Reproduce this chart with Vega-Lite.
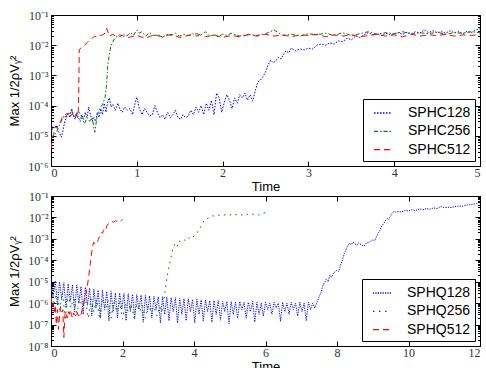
{
  "$schema": "https://vega.github.io/schema/vega-lite/v6.json",
  "padding": {"left": 8, "top": 8, "right": 0, "bottom": 0},
  "config": {
    "view": {"stroke": "black", "strokeWidth": 1},
    "axis": {
      "grid": false, "domain": false, "tickColor": "black", "tickWidth": 1,
      "labelFont": "Liberation Serif", "labelFontSize": 12, "labelColor": "#333",
      "titleFont": "Liberation Sans", "titleFontSize": 13, "titleFontWeight": "normal", "titleColor": "black"
    },
    "legend": {
      "orient": "bottom-right", "offset": 5, "title": null, "strokeColor": "black", "fillColor": "white",
      "padding": 4, "symbolType": "stroke", "symbolSize": 324, "symbolStrokeWidth": 1.3, "symbolOffset": 6,
      "labelFont": "Liberation Sans", "labelFontSize": 14, "labelColor": "black", "labelOffset": 15, "rowPadding": 1.3, "cornerRadius": 0
    }
  },
  "datasets": {
    "top": [
      {"s":"SPHC128","t":0.00,"v":1.0e-5},{"s":"SPHC128","t":0.02,"v":2.0e-5},{"s":"SPHC128","t":0.04,"v":1.8e-5},{"s":"SPHC128","t":0.06,"v":2.2e-5},{"s":"SPHC128","t":0.08,"v":1.5e-5},{"s":"SPHC128","t":0.10,"v":1.2e-5},{"s":"SPHC128","t":0.12,"v":9e-6},{"s":"SPHC128","t":0.14,"v":1.5e-5},{"s":"SPHC128","t":0.16,"v":3e-5},{"s":"SPHC128","t":0.18,"v":4e-5},{"s":"SPHC128","t":0.20,"v":6e-5},{"s":"SPHC128","t":0.22,"v":4e-5},{"s":"SPHC128","t":0.24,"v":8e-5},{"s":"SPHC128","t":0.26,"v":5e-5},{"s":"SPHC128","t":0.28,"v":3.5e-5},{"s":"SPHC128","t":0.30,"v":6e-5},{"s":"SPHC128","t":0.32,"v":4e-5},{"s":"SPHC128","t":0.34,"v":3e-5},{"s":"SPHC128","t":0.36,"v":5e-5},{"s":"SPHC128","t":0.38,"v":3.5e-5},{"s":"SPHC128","t":0.40,"v":6e-5},{"s":"SPHC128","t":0.42,"v":4e-5},{"s":"SPHC128","t":0.44,"v":9e-5},{"s":"SPHC128","t":0.46,"v":5e-5},{"s":"SPHC128","t":0.48,"v":3e-5},{"s":"SPHC128","t":0.50,"v":4e-5},{"s":"SPHC128","t":0.52,"v":3e-5},{"s":"SPHC128","t":0.54,"v":6e-5},{"s":"SPHC128","t":0.56,"v":4e-5},{"s":"SPHC128","t":0.58,"v":8e-5},{"s":"SPHC128","t":0.60,"v":5e-5},{"s":"SPHC128","t":0.62,"v":1.2e-4},{"s":"SPHC128","t":0.64,"v":6e-5},{"s":"SPHC128","t":0.66,"v":1.3e-4},{"s":"SPHC128","t":0.68,"v":1.8e-4},{"s":"SPHC128","t":0.70,"v":9e-5},{"s":"SPHC128","t":0.72,"v":1.1e-4},{"s":"SPHC128","t":0.75,"v":7e-5},{"s":"SPHC128","t":0.78,"v":1.2e-4},{"s":"SPHC128","t":0.80,"v":8e-5},{"s":"SPHC128","t":0.83,"v":6e-5},{"s":"SPHC128","t":0.86,"v":9e-5},{"s":"SPHC128","t":0.89,"v":7e-5},{"s":"SPHC128","t":0.92,"v":8e-5},{"s":"SPHC128","t":0.95,"v":5e-5},{"s":"SPHC128","t":0.98,"v":1.2e-4},{"s":"SPHC128","t":1.00,"v":1.9e-4},{"s":"SPHC128","t":1.03,"v":8e-5},{"s":"SPHC128","t":1.06,"v":5e-5},{"s":"SPHC128","t":1.09,"v":8e-5},{"s":"SPHC128","t":1.12,"v":6e-5},{"s":"SPHC128","t":1.15,"v":4.5e-5},{"s":"SPHC128","t":1.18,"v":5e-5},{"s":"SPHC128","t":1.21,"v":1e-4},{"s":"SPHC128","t":1.24,"v":6e-5},{"s":"SPHC128","t":1.27,"v":4e-5},{"s":"SPHC128","t":1.30,"v":5e-5},{"s":"SPHC128","t":1.33,"v":3.5e-5},{"s":"SPHC128","t":1.36,"v":6e-5},{"s":"SPHC128","t":1.39,"v":4e-5},{"s":"SPHC128","t":1.42,"v":5e-5},{"s":"SPHC128","t":1.45,"v":7e-5},{"s":"SPHC128","t":1.48,"v":4e-5},{"s":"SPHC128","t":1.51,"v":3.5e-5},{"s":"SPHC128","t":1.54,"v":5e-5},{"s":"SPHC128","t":1.57,"v":4e-5},{"s":"SPHC128","t":1.60,"v":4.5e-5},{"s":"SPHC128","t":1.63,"v":7e-5},{"s":"SPHC128","t":1.66,"v":5e-5},{"s":"SPHC128","t":1.69,"v":9e-5},{"s":"SPHC128","t":1.72,"v":6e-5},{"s":"SPHC128","t":1.75,"v":1e-4},{"s":"SPHC128","t":1.78,"v":5e-5},{"s":"SPHC128","t":1.81,"v":1.2e-4},{"s":"SPHC128","t":1.84,"v":7e-5},{"s":"SPHC128","t":1.87,"v":1.5e-4},{"s":"SPHC128","t":1.90,"v":5e-5},{"s":"SPHC128","t":1.93,"v":2.6e-4},{"s":"SPHC128","t":1.96,"v":1.8e-4},{"s":"SPHC128","t":1.99,"v":6e-5},{"s":"SPHC128","t":2.02,"v":1.3e-4},{"s":"SPHC128","t":2.05,"v":2.3e-4},{"s":"SPHC128","t":2.08,"v":1.5e-4},{"s":"SPHC128","t":2.11,"v":8e-5},{"s":"SPHC128","t":2.14,"v":1.8e-4},{"s":"SPHC128","t":2.17,"v":1.2e-4},{"s":"SPHC128","t":2.20,"v":2.3e-4},{"s":"SPHC128","t":2.23,"v":1.8e-4},{"s":"SPHC128","t":2.26,"v":2.6e-4},{"s":"SPHC128","t":2.29,"v":1.5e-4},{"s":"SPHC128","t":2.32,"v":2.3e-4},{"s":"SPHC128","t":2.35,"v":1.4e-4},{"s":"SPHC128","t":2.38,"v":3e-4},{"s":"SPHC128","t":2.41,"v":6e-4},{"s":"SPHC128","t":2.44,"v":7e-4},{"s":"SPHC128","t":2.47,"v":9e-4},{"s":"SPHC128","t":2.50,"v":1.3e-3},{"s":"SPHC128","t":2.53,"v":2.2e-3},{"s":"SPHC128","t":2.56,"v":3.2e-3},{"s":"SPHC128","t":2.59,"v":2.6e-3},{"s":"SPHC128","t":2.62,"v":3e-3},{"s":"SPHC128","t":2.65,"v":4e-3},{"s":"SPHC128","t":2.68,"v":3.5e-3},{"s":"SPHC128","t":2.71,"v":5e-3},{"s":"SPHC128","t":2.74,"v":6.5e-3},{"s":"SPHC128","t":2.77,"v":5.5e-3},{"s":"SPHC128","t":2.80,"v":8e-3},{"s":"SPHC128","t":2.85,"v":6.5e-3},{"s":"SPHC128","t":2.90,"v":7.5e-3},{"s":"SPHC128","t":2.95,"v":7e-3},{"s":"SPHC128","t":3.00,"v":8e-3},{"s":"SPHC128","t":3.05,"v":7.5e-3},{"s":"SPHC128","t":3.10,"v":1e-2},{"s":"SPHC128","t":3.15,"v":1.1e-2},{"s":"SPHC128","t":3.20,"v":1e-2},{"s":"SPHC128","t":3.25,"v":1.2e-2},{"s":"SPHC128","t":3.30,"v":1.1e-2},{"s":"SPHC128","t":3.35,"v":1.4e-2},{"s":"SPHC128","t":3.40,"v":1.3e-2},{"s":"SPHC128","t":3.45,"v":1.7e-2},{"s":"SPHC128","t":3.50,"v":1.5e-2},{"s":"SPHC128","t":3.55,"v":2e-2},{"s":"SPHC128","t":3.60,"v":1.8e-2},{"s":"SPHC128","t":3.65,"v":2.2e-2},{"s":"SPHC128","t":3.70,"v":2.6e-2},{"s":"SPHC128","t":3.75,"v":2.2e-2},{"s":"SPHC128","t":3.80,"v":2.4e-2},{"s":"SPHC128","t":3.85,"v":2.1e-2},{"s":"SPHC128","t":3.90,"v":2.5e-2},{"s":"SPHC128","t":3.95,"v":2.2e-2},{"s":"SPHC128","t":4.00,"v":2.4e-2},{"s":"SPHC128","t":4.05,"v":2.6e-2},{"s":"SPHC128","t":4.10,"v":2.3e-2},{"s":"SPHC128","t":4.15,"v":2.7e-2},{"s":"SPHC128","t":4.20,"v":2.4e-2},{"s":"SPHC128","t":4.25,"v":2.8e-2},{"s":"SPHC128","t":4.30,"v":2.5e-2},{"s":"SPHC128","t":4.35,"v":3.2e-2},{"s":"SPHC128","t":4.40,"v":2.6e-2},{"s":"SPHC128","t":4.45,"v":3e-2},{"s":"SPHC128","t":4.50,"v":2.6e-2},{"s":"SPHC128","t":4.55,"v":2.8e-2},{"s":"SPHC128","t":4.60,"v":2.5e-2},{"s":"SPHC128","t":4.65,"v":3e-2},{"s":"SPHC128","t":4.70,"v":2.6e-2},{"s":"SPHC128","t":4.75,"v":2.8e-2},{"s":"SPHC128","t":4.80,"v":2.4e-2},{"s":"SPHC128","t":4.85,"v":2.9e-2},{"s":"SPHC128","t":4.90,"v":2.6e-2},{"s":"SPHC128","t":4.95,"v":3.2e-2},{"s":"SPHC128","t":5.00,"v":3.5e-2},
      {"s":"SPHC256","t":0.00,"v":8e-6},{"s":"SPHC256","t":0.03,"v":1.1e-5},{"s":"SPHC256","t":0.06,"v":1.2e-5},{"s":"SPHC256","t":0.09,"v":2e-5},{"s":"SPHC256","t":0.12,"v":3e-5},{"s":"SPHC256","t":0.15,"v":4.5e-5},{"s":"SPHC256","t":0.18,"v":5.5e-5},{"s":"SPHC256","t":0.21,"v":5e-5},{"s":"SPHC256","t":0.24,"v":7e-5},{"s":"SPHC256","t":0.27,"v":4e-5},{"s":"SPHC256","t":0.30,"v":5e-5},{"s":"SPHC256","t":0.33,"v":6e-5},{"s":"SPHC256","t":0.36,"v":4e-5},{"s":"SPHC256","t":0.39,"v":2.5e-5},{"s":"SPHC256","t":0.42,"v":4e-5},{"s":"SPHC256","t":0.45,"v":3e-5},{"s":"SPHC256","t":0.48,"v":4e-5},{"s":"SPHC256","t":0.51,"v":1.3e-5},{"s":"SPHC256","t":0.54,"v":5e-5},{"s":"SPHC256","t":0.57,"v":8e-5},{"s":"SPHC256","t":0.60,"v":1.1e-4},{"s":"SPHC256","t":0.63,"v":1.8e-4},{"s":"SPHC256","t":0.65,"v":6e-4},{"s":"SPHC256","t":0.66,"v":2e-3},{"s":"SPHC256","t":0.68,"v":5e-3},{"s":"SPHC256","t":0.70,"v":1e-2},{"s":"SPHC256","t":0.72,"v":1.3e-2},{"s":"SPHC256","t":0.75,"v":1.8e-2},{"s":"SPHC256","t":0.78,"v":2e-2},{"s":"SPHC256","t":0.81,"v":1.9e-2},{"s":"SPHC256","t":0.84,"v":2.4e-2},{"s":"SPHC256","t":0.87,"v":2e-2},{"s":"SPHC256","t":0.90,"v":2.2e-2},{"s":"SPHC256","t":0.93,"v":2.6e-2},{"s":"SPHC256","t":0.96,"v":2.1e-2},{"s":"SPHC256","t":1.00,"v":3.2e-2},{"s":"SPHC256","t":1.03,"v":2.5e-2},{"s":"SPHC256","t":1.06,"v":2.8e-2},{"s":"SPHC256","t":1.10,"v":2e-2},{"s":"SPHC256","t":1.15,"v":2.6e-2},{"s":"SPHC256","t":1.20,"v":2.1e-2},{"s":"SPHC256","t":1.25,"v":2.2e-2},{"s":"SPHC256","t":1.30,"v":1.8e-2},{"s":"SPHC256","t":1.35,"v":2.3e-2},{"s":"SPHC256","t":1.40,"v":2.1e-2},{"s":"SPHC256","t":1.45,"v":2.5e-2},{"s":"SPHC256","t":1.50,"v":2e-2},{"s":"SPHC256","t":1.55,"v":2.3e-2},{"s":"SPHC256","t":1.60,"v":2.1e-2},{"s":"SPHC256","t":1.65,"v":2.4e-2},{"s":"SPHC256","t":1.70,"v":2e-2},{"s":"SPHC256","t":1.75,"v":2.2e-2},{"s":"SPHC256","t":1.80,"v":2.8e-2},{"s":"SPHC256","t":1.85,"v":2e-2},{"s":"SPHC256","t":1.90,"v":2.2e-2},{"s":"SPHC256","t":1.95,"v":1.9e-2},{"s":"SPHC256","t":2.00,"v":2.3e-2},{"s":"SPHC256","t":2.05,"v":2.1e-2},{"s":"SPHC256","t":2.10,"v":2.5e-2},{"s":"SPHC256","t":2.20,"v":2e-2},{"s":"SPHC256","t":2.30,"v":2.3e-2},{"s":"SPHC256","t":2.40,"v":2.1e-2},{"s":"SPHC256","t":2.50,"v":2.4e-2},{"s":"SPHC256","t":2.60,"v":3.2e-2},{"s":"SPHC256","t":2.70,"v":2.1e-2},{"s":"SPHC256","t":2.80,"v":2.3e-2},{"s":"SPHC256","t":2.90,"v":2e-2},{"s":"SPHC256","t":3.00,"v":2.4e-2},{"s":"SPHC256","t":3.10,"v":2.2e-2},{"s":"SPHC256","t":3.20,"v":2.5e-2},{"s":"SPHC256","t":3.30,"v":2.1e-2},{"s":"SPHC256","t":3.40,"v":2.6e-2},{"s":"SPHC256","t":3.50,"v":2.1e-2},{"s":"SPHC256","t":3.60,"v":2.4e-2},{"s":"SPHC256","t":3.70,"v":2.8e-2},{"s":"SPHC256","t":3.80,"v":2.3e-2},{"s":"SPHC256","t":3.90,"v":2.6e-2},{"s":"SPHC256","t":4.00,"v":2.4e-2},{"s":"SPHC256","t":4.10,"v":2.8e-2},{"s":"SPHC256","t":4.20,"v":2.3e-2},{"s":"SPHC256","t":4.30,"v":2.6e-2},{"s":"SPHC256","t":4.40,"v":2.4e-2},{"s":"SPHC256","t":4.50,"v":2.7e-2},{"s":"SPHC256","t":4.60,"v":2.3e-2},{"s":"SPHC256","t":4.70,"v":2.6e-2},{"s":"SPHC256","t":4.80,"v":2.5e-2},{"s":"SPHC256","t":4.90,"v":2.8e-2},{"s":"SPHC256","t":5.00,"v":2.6e-2},
      {"s":"SPHC512","t":0.00,"v":4e-6},{"s":"SPHC512","t":0.01,"v":6e-6},{"s":"SPHC512","t":0.03,"v":1.1e-5},{"s":"SPHC512","t":0.05,"v":2e-5},{"s":"SPHC512","t":0.07,"v":1.8e-5},{"s":"SPHC512","t":0.09,"v":2.5e-5},{"s":"SPHC512","t":0.11,"v":3e-5},{"s":"SPHC512","t":0.13,"v":4e-5},{"s":"SPHC512","t":0.15,"v":3.5e-5},{"s":"SPHC512","t":0.17,"v":4.5e-5},{"s":"SPHC512","t":0.19,"v":5e-5},{"s":"SPHC512","t":0.21,"v":6e-5},{"s":"SPHC512","t":0.23,"v":4.5e-5},{"s":"SPHC512","t":0.25,"v":5.5e-5},{"s":"SPHC512","t":0.27,"v":4e-5},{"s":"SPHC512","t":0.29,"v":5e-5},{"s":"SPHC512","t":0.31,"v":4e-5},{"s":"SPHC512","t":0.32,"v":8e-5},{"s":"SPHC512","t":0.33,"v":7e-3},{"s":"SPHC512","t":0.36,"v":9e-3},{"s":"SPHC512","t":0.39,"v":1e-2},{"s":"SPHC512","t":0.42,"v":1.2e-2},{"s":"SPHC512","t":0.45,"v":1.5e-2},{"s":"SPHC512","t":0.48,"v":1.7e-2},{"s":"SPHC512","t":0.51,"v":2e-2},{"s":"SPHC512","t":0.54,"v":1.8e-2},{"s":"SPHC512","t":0.57,"v":2.1e-2},{"s":"SPHC512","t":0.60,"v":2.2e-2},{"s":"SPHC512","t":0.63,"v":2.5e-2},{"s":"SPHC512","t":0.65,"v":3.6e-2},{"s":"SPHC512","t":0.68,"v":2e-2},{"s":"SPHC512","t":0.72,"v":2.3e-2},{"s":"SPHC512","t":0.76,"v":1.9e-2},{"s":"SPHC512","t":0.80,"v":2.2e-2},{"s":"SPHC512","t":0.90,"v":1.8e-2},{"s":"SPHC512","t":1.00,"v":2.1e-2},{"s":"SPHC512","t":1.10,"v":1.7e-2},{"s":"SPHC512","t":1.20,"v":2.2e-2},{"s":"SPHC512","t":1.30,"v":1.9e-2},{"s":"SPHC512","t":1.40,"v":2.3e-2},{"s":"SPHC512","t":1.50,"v":1.8e-2},{"s":"SPHC512","t":1.60,"v":2.1e-2},{"s":"SPHC512","t":1.70,"v":2.4e-2},{"s":"SPHC512","t":1.80,"v":1.9e-2},{"s":"SPHC512","t":1.90,"v":2.2e-2},{"s":"SPHC512","t":2.00,"v":1.8e-2},{"s":"SPHC512","t":2.10,"v":2.1e-2},{"s":"SPHC512","t":2.20,"v":1.9e-2},{"s":"SPHC512","t":2.30,"v":2.2e-2},{"s":"SPHC512","t":2.40,"v":2e-2},{"s":"SPHC512","t":2.50,"v":2.3e-2},{"s":"SPHC512","t":2.60,"v":2e-2},{"s":"SPHC512","t":2.70,"v":2.2e-2},{"s":"SPHC512","t":2.80,"v":1.9e-2},{"s":"SPHC512","t":2.90,"v":2.2e-2},{"s":"SPHC512","t":3.00,"v":2.1e-2},{"s":"SPHC512","t":3.10,"v":2.3e-2},{"s":"SPHC512","t":3.20,"v":1.9e-2},{"s":"SPHC512","t":3.30,"v":2.2e-2},{"s":"SPHC512","t":3.40,"v":2e-2},{"s":"SPHC512","t":3.50,"v":2.2e-2},{"s":"SPHC512","t":3.60,"v":1.9e-2},{"s":"SPHC512","t":3.70,"v":2.1e-2},{"s":"SPHC512","t":3.80,"v":2.3e-2},{"s":"SPHC512","t":3.90,"v":2e-2},{"s":"SPHC512","t":4.00,"v":2.2e-2},{"s":"SPHC512","t":4.10,"v":1.9e-2},{"s":"SPHC512","t":4.20,"v":2.3e-2},{"s":"SPHC512","t":4.30,"v":2e-2},{"s":"SPHC512","t":4.40,"v":2.2e-2},{"s":"SPHC512","t":4.50,"v":2.1e-2},{"s":"SPHC512","t":4.60,"v":2.3e-2},{"s":"SPHC512","t":4.70,"v":2e-2},{"s":"SPHC512","t":4.80,"v":2.2e-2},{"s":"SPHC512","t":4.90,"v":2.1e-2},{"s":"SPHC512","t":5.00,"v":2.3e-2}
    ],
    "bot": [
      {"s":"SPHQ128","t":0.00,"v":1.2e-5},{"s":"SPHQ128","t":0.06,"v":2e-6},{"s":"SPHQ128","t":0.12,"v":1.1e-5},{"s":"SPHQ128","t":0.18,"v":8e-7},{"s":"SPHQ128","t":0.24,"v":1e-5},{"s":"SPHQ128","t":0.30,"v":1.5e-6},{"s":"SPHQ128","t":0.36,"v":9e-6},{"s":"SPHQ128","t":0.42,"v":6e-7},{"s":"SPHQ128","t":0.48,"v":8e-6},{"s":"SPHQ128","t":0.54,"v":1.2e-6},{"s":"SPHQ128","t":0.60,"v":7e-6},{"s":"SPHQ128","t":0.66,"v":4e-7},{"s":"SPHQ128","t":0.72,"v":7e-6},{"s":"SPHQ128","t":0.78,"v":1e-6},{"s":"SPHQ128","t":0.84,"v":6e-6},{"s":"SPHQ128","t":0.90,"v":3e-7},{"s":"SPHQ128","t":0.96,"v":5.5e-6},{"s":"SPHQ128","t":1.02,"v":8e-7},{"s":"SPHQ128","t":1.08,"v":5e-6},{"s":"SPHQ128","t":1.14,"v":2.5e-7},{"s":"SPHQ128","t":1.20,"v":4.5e-6},{"s":"SPHQ128","t":1.26,"v":6e-7},{"s":"SPHQ128","t":1.32,"v":4e-6},{"s":"SPHQ128","t":1.38,"v":2e-7},{"s":"SPHQ128","t":1.44,"v":4e-6},{"s":"SPHQ128","t":1.50,"v":5e-7},{"s":"SPHQ128","t":1.56,"v":3.5e-6},{"s":"SPHQ128","t":1.62,"v":1.5e-7},{"s":"SPHQ128","t":1.68,"v":3.5e-6},{"s":"SPHQ128","t":1.74,"v":4e-7},{"s":"SPHQ128","t":1.80,"v":3e-6},{"s":"SPHQ128","t":1.86,"v":2e-7},{"s":"SPHQ128","t":1.92,"v":3e-6},{"s":"SPHQ128","t":1.98,"v":5e-7},{"s":"SPHQ128","t":2.04,"v":2.8e-6},{"s":"SPHQ128","t":2.10,"v":1.5e-7},{"s":"SPHQ128","t":2.16,"v":2.7e-6},{"s":"SPHQ128","t":2.22,"v":4e-7},{"s":"SPHQ128","t":2.28,"v":2.6e-6},{"s":"SPHQ128","t":2.34,"v":1.8e-7},{"s":"SPHQ128","t":2.40,"v":2.5e-6},{"s":"SPHQ128","t":2.46,"v":5e-7},{"s":"SPHQ128","t":2.52,"v":2.4e-6},{"s":"SPHQ128","t":2.58,"v":1.3e-7},{"s":"SPHQ128","t":2.64,"v":2.3e-6},{"s":"SPHQ128","t":2.70,"v":4e-7},{"s":"SPHQ128","t":2.76,"v":2.2e-6},{"s":"SPHQ128","t":2.82,"v":2e-7},{"s":"SPHQ128","t":2.88,"v":2.1e-6},{"s":"SPHQ128","t":2.94,"v":5e-7},{"s":"SPHQ128","t":3.00,"v":2e-6},{"s":"SPHQ128","t":3.06,"v":1.2e-7},{"s":"SPHQ128","t":3.12,"v":2e-6},{"s":"SPHQ128","t":3.18,"v":3e-7},{"s":"SPHQ128","t":3.24,"v":1.9e-6},{"s":"SPHQ128","t":3.30,"v":1.5e-7},{"s":"SPHQ128","t":3.36,"v":1.8e-6},{"s":"SPHQ128","t":3.42,"v":4e-7},{"s":"SPHQ128","t":3.48,"v":1.8e-6},{"s":"SPHQ128","t":3.54,"v":1.2e-7},{"s":"SPHQ128","t":3.60,"v":1.7e-6},{"s":"SPHQ128","t":3.66,"v":3e-7},{"s":"SPHQ128","t":3.72,"v":1.6e-6},{"s":"SPHQ128","t":3.78,"v":1.5e-7},{"s":"SPHQ128","t":3.84,"v":1.6e-6},{"s":"SPHQ128","t":3.90,"v":4e-7},{"s":"SPHQ128","t":3.96,"v":1.5e-6},{"s":"SPHQ128","t":4.02,"v":1.2e-7},{"s":"SPHQ128","t":4.08,"v":1.5e-6},{"s":"SPHQ128","t":4.14,"v":3e-7},{"s":"SPHQ128","t":4.20,"v":1.4e-6},{"s":"SPHQ128","t":4.26,"v":1.5e-7},{"s":"SPHQ128","t":4.32,"v":1.4e-6},{"s":"SPHQ128","t":4.38,"v":4e-7},{"s":"SPHQ128","t":4.44,"v":1.3e-6},{"s":"SPHQ128","t":4.50,"v":1.3e-7},{"s":"SPHQ128","t":4.56,"v":1.3e-6},{"s":"SPHQ128","t":4.62,"v":3e-7},{"s":"SPHQ128","t":4.68,"v":1.3e-6},{"s":"SPHQ128","t":4.74,"v":1.6e-7},{"s":"SPHQ128","t":4.80,"v":1.2e-6},{"s":"SPHQ128","t":4.86,"v":4e-7},{"s":"SPHQ128","t":4.92,"v":1.2e-6},{"s":"SPHQ128","t":4.98,"v":1.1e-7},{"s":"SPHQ128","t":5.04,"v":1.2e-6},{"s":"SPHQ128","t":5.10,"v":3e-7},{"s":"SPHQ128","t":5.16,"v":1.1e-6},{"s":"SPHQ128","t":5.22,"v":2e-7},{"s":"SPHQ128","t":5.28,"v":1.2e-6},{"s":"SPHQ128","t":5.34,"v":5e-7},{"s":"SPHQ128","t":5.40,"v":1.1e-6},{"s":"SPHQ128","t":5.46,"v":2e-7},{"s":"SPHQ128","t":5.52,"v":1.1e-6},{"s":"SPHQ128","t":5.58,"v":4e-7},{"s":"SPHQ128","t":5.64,"v":1.2e-6},{"s":"SPHQ128","t":5.70,"v":1.3e-7},{"s":"SPHQ128","t":5.76,"v":1.1e-6},{"s":"SPHQ128","t":5.82,"v":3e-7},{"s":"SPHQ128","t":5.88,"v":1e-6},{"s":"SPHQ128","t":5.94,"v":2.5e-7},{"s":"SPHQ128","t":6.00,"v":1.1e-6},{"s":"SPHQ128","t":6.06,"v":5e-7},{"s":"SPHQ128","t":6.12,"v":1e-6},{"s":"SPHQ128","t":6.18,"v":3e-7},{"s":"SPHQ128","t":6.24,"v":1.1e-6},{"s":"SPHQ128","t":6.30,"v":6e-7},{"s":"SPHQ128","t":6.36,"v":1e-6},{"s":"SPHQ128","t":6.42,"v":1.4e-7},{"s":"SPHQ128","t":6.48,"v":1.1e-6},{"s":"SPHQ128","t":6.54,"v":4e-7},{"s":"SPHQ128","t":6.60,"v":1e-6},{"s":"SPHQ128","t":6.66,"v":3e-7},{"s":"SPHQ128","t":6.72,"v":1.1e-6},{"s":"SPHQ128","t":6.78,"v":5e-7},{"s":"SPHQ128","t":6.84,"v":1e-6},{"s":"SPHQ128","t":6.90,"v":2.5e-7},{"s":"SPHQ128","t":6.96,"v":1.1e-6},{"s":"SPHQ128","t":7.02,"v":4e-7},{"s":"SPHQ128","t":7.08,"v":1e-6},{"s":"SPHQ128","t":7.14,"v":1.5e-7},{"s":"SPHQ128","t":7.20,"v":1.1e-6},{"s":"SPHQ128","t":7.26,"v":5e-7},{"s":"SPHQ128","t":7.32,"v":1e-6},{"s":"SPHQ128","t":7.38,"v":6e-7},{"s":"SPHQ128","t":7.45,"v":1.2e-6},{"s":"SPHQ128","t":7.50,"v":2e-6},{"s":"SPHQ128","t":7.55,"v":3e-6},{"s":"SPHQ128","t":7.60,"v":6e-6},{"s":"SPHQ128","t":7.65,"v":9e-6},{"s":"SPHQ128","t":7.70,"v":1.3e-5},{"s":"SPHQ128","t":7.75,"v":1e-5},{"s":"SPHQ128","t":7.80,"v":2e-5},{"s":"SPHQ128","t":7.85,"v":1.6e-5},{"s":"SPHQ128","t":7.90,"v":2.5e-5},{"s":"SPHQ128","t":8.00,"v":3.5e-5},{"s":"SPHQ128","t":8.05,"v":3e-5},{"s":"SPHQ128","t":8.10,"v":6e-5},{"s":"SPHQ128","t":8.15,"v":1e-4},{"s":"SPHQ128","t":8.20,"v":2e-4},{"s":"SPHQ128","t":8.25,"v":3e-4},{"s":"SPHQ128","t":8.30,"v":5e-4},{"s":"SPHQ128","t":8.35,"v":6e-4},{"s":"SPHQ128","t":8.40,"v":5.5e-4},{"s":"SPHQ128","t":8.45,"v":7e-4},{"s":"SPHQ128","t":8.50,"v":6e-4},{"s":"SPHQ128","t":8.55,"v":5e-4},{"s":"SPHQ128","t":8.60,"v":6.5e-4},{"s":"SPHQ128","t":8.70,"v":5e-4},{"s":"SPHQ128","t":8.75,"v":4.5e-4},{"s":"SPHQ128","t":8.80,"v":6e-4},{"s":"SPHQ128","t":8.90,"v":7e-4},{"s":"SPHQ128","t":9.00,"v":9e-4},{"s":"SPHQ128","t":9.05,"v":8e-4},{"s":"SPHQ128","t":9.10,"v":1.2e-3},{"s":"SPHQ128","t":9.15,"v":1.8e-3},{"s":"SPHQ128","t":9.20,"v":2.5e-3},{"s":"SPHQ128","t":9.25,"v":4e-3},{"s":"SPHQ128","t":9.30,"v":5e-3},{"s":"SPHQ128","t":9.35,"v":7e-3},{"s":"SPHQ128","t":9.40,"v":9e-3},{"s":"SPHQ128","t":9.45,"v":8e-3},{"s":"SPHQ128","t":9.50,"v":1.2e-2},{"s":"SPHQ128","t":9.55,"v":1.6e-2},{"s":"SPHQ128","t":9.60,"v":2e-2},{"s":"SPHQ128","t":9.65,"v":1.7e-2},{"s":"SPHQ128","t":9.70,"v":1.9e-2},{"s":"SPHQ128","t":9.80,"v":1.8e-2},{"s":"SPHQ128","t":9.90,"v":2.1e-2},{"s":"SPHQ128","t":10.0,"v":2e-2},{"s":"SPHQ128","t":10.1,"v":2.3e-2},{"s":"SPHQ128","t":10.2,"v":2.1e-2},{"s":"SPHQ128","t":10.3,"v":2.5e-2},{"s":"SPHQ128","t":10.4,"v":2.3e-2},{"s":"SPHQ128","t":10.5,"v":2.6e-2},{"s":"SPHQ128","t":10.6,"v":2.4e-2},{"s":"SPHQ128","t":10.7,"v":2.8e-2},{"s":"SPHQ128","t":10.8,"v":2.6e-2},{"s":"SPHQ128","t":10.9,"v":3.2e-2},{"s":"SPHQ128","t":11.0,"v":2.9e-2},{"s":"SPHQ128","t":11.1,"v":3e-2},{"s":"SPHQ128","t":11.2,"v":2.9e-2},{"s":"SPHQ128","t":11.3,"v":3.2e-2},{"s":"SPHQ128","t":11.4,"v":3.4e-2},{"s":"SPHQ128","t":11.5,"v":3.3e-2},{"s":"SPHQ128","t":11.6,"v":3.7e-2},{"s":"SPHQ128","t":11.7,"v":3.9e-2},{"s":"SPHQ128","t":11.8,"v":4.1e-2},{"s":"SPHQ128","t":11.9,"v":4.4e-2},{"s":"SPHQ128","t":12.0,"v":5e-2},
      {"s":"SPHQ256","t":0.00,"v":4.5e-6},{"s":"SPHQ256","t":0.08,"v":8e-7},{"s":"SPHQ256","t":0.16,"v":3.5e-6},{"s":"SPHQ256","t":0.24,"v":5e-7},{"s":"SPHQ256","t":0.32,"v":3e-6},{"s":"SPHQ256","t":0.40,"v":2e-7},{"s":"SPHQ256","t":0.48,"v":2.5e-6},{"s":"SPHQ256","t":0.56,"v":6e-7},{"s":"SPHQ256","t":0.64,"v":2.2e-6},{"s":"SPHQ256","t":0.72,"v":2.5e-7},{"s":"SPHQ256","t":0.80,"v":2e-6},{"s":"SPHQ256","t":0.88,"v":5e-7},{"s":"SPHQ256","t":0.96,"v":1.8e-6},{"s":"SPHQ256","t":1.04,"v":2e-7},{"s":"SPHQ256","t":1.12,"v":1.6e-6},{"s":"SPHQ256","t":1.20,"v":4e-7},{"s":"SPHQ256","t":1.28,"v":1.5e-6},{"s":"SPHQ256","t":1.36,"v":1.8e-7},{"s":"SPHQ256","t":1.44,"v":1.4e-6},{"s":"SPHQ256","t":1.52,"v":5e-7},{"s":"SPHQ256","t":1.60,"v":1.3e-6},{"s":"SPHQ256","t":1.68,"v":2e-7},{"s":"SPHQ256","t":1.76,"v":1.2e-6},{"s":"SPHQ256","t":1.84,"v":4e-7},{"s":"SPHQ256","t":1.92,"v":1.1e-6},{"s":"SPHQ256","t":2.00,"v":1.8e-7},{"s":"SPHQ256","t":2.08,"v":1e-6},{"s":"SPHQ256","t":2.16,"v":4e-7},{"s":"SPHQ256","t":2.24,"v":9e-7},{"s":"SPHQ256","t":2.32,"v":2e-7},{"s":"SPHQ256","t":2.40,"v":9e-7},{"s":"SPHQ256","t":2.48,"v":4e-7},{"s":"SPHQ256","t":2.56,"v":8e-7},{"s":"SPHQ256","t":2.64,"v":2e-7},{"s":"SPHQ256","t":2.72,"v":8e-7},{"s":"SPHQ256","t":2.80,"v":4e-7},{"s":"SPHQ256","t":2.88,"v":7e-7},{"s":"SPHQ256","t":2.96,"v":2.5e-7},{"s":"SPHQ256","t":3.04,"v":7e-7},{"s":"SPHQ256","t":3.10,"v":4e-7},{"s":"SPHQ256","t":3.16,"v":1.5e-6},{"s":"SPHQ256","t":3.22,"v":8e-6},{"s":"SPHQ256","t":3.28,"v":3.5e-5},{"s":"SPHQ256","t":3.34,"v":1e-4},{"s":"SPHQ256","t":3.40,"v":3e-4},{"s":"SPHQ256","t":3.46,"v":5.5e-4},{"s":"SPHQ256","t":3.52,"v":4e-4},{"s":"SPHQ256","t":3.58,"v":8e-4},{"s":"SPHQ256","t":3.64,"v":7e-4},{"s":"SPHQ256","t":3.72,"v":9e-4},{"s":"SPHQ256","t":3.80,"v":8e-4},{"s":"SPHQ256","t":3.88,"v":1.2e-3},{"s":"SPHQ256","t":3.96,"v":1.1e-3},{"s":"SPHQ256","t":4.04,"v":1.8e-3},{"s":"SPHQ256","t":4.12,"v":2.2e-3},{"s":"SPHQ256","t":4.20,"v":4e-3},{"s":"SPHQ256","t":4.28,"v":7e-3},{"s":"SPHQ256","t":4.36,"v":8e-3},{"s":"SPHQ256","t":4.44,"v":1.1e-2},{"s":"SPHQ256","t":4.52,"v":1.2e-2},{"s":"SPHQ256","t":4.60,"v":1.1e-2},{"s":"SPHQ256","t":4.70,"v":1.3e-2},{"s":"SPHQ256","t":4.80,"v":1.2e-2},{"s":"SPHQ256","t":4.90,"v":1.4e-2},{"s":"SPHQ256","t":5.00,"v":1.3e-2},{"s":"SPHQ256","t":5.10,"v":1.5e-2},{"s":"SPHQ256","t":5.20,"v":1.3e-2},{"s":"SPHQ256","t":5.30,"v":1.4e-2},{"s":"SPHQ256","t":5.40,"v":1.2e-2},{"s":"SPHQ256","t":5.50,"v":1.4e-2},{"s":"SPHQ256","t":5.60,"v":1.3e-2},{"s":"SPHQ256","t":5.70,"v":1.5e-2},{"s":"SPHQ256","t":5.80,"v":1.3e-2},{"s":"SPHQ256","t":5.90,"v":1.5e-2},{"s":"SPHQ256","t":6.00,"v":1.7e-2},
      {"s":"SPHQ512","t":0.00,"v":2e-6},{"s":"SPHQ512","t":0.03,"v":7e-7},{"s":"SPHQ512","t":0.06,"v":1e-6},{"s":"SPHQ512","t":0.09,"v":4e-7},{"s":"SPHQ512","t":0.12,"v":8e-7},{"s":"SPHQ512","t":0.15,"v":1e-7},{"s":"SPHQ512","t":0.18,"v":5e-7},{"s":"SPHQ512","t":0.21,"v":6e-8},{"s":"SPHQ512","t":0.24,"v":3e-7},{"s":"SPHQ512","t":0.27,"v":7e-7},{"s":"SPHQ512","t":0.30,"v":4e-7},{"s":"SPHQ512","t":0.33,"v":5e-7},{"s":"SPHQ512","t":0.36,"v":2.5e-8},{"s":"SPHQ512","t":0.39,"v":3e-7},{"s":"SPHQ512","t":0.42,"v":4e-7},{"s":"SPHQ512","t":0.45,"v":2e-7},{"s":"SPHQ512","t":0.48,"v":4e-7},{"s":"SPHQ512","t":0.51,"v":3e-7},{"s":"SPHQ512","t":0.54,"v":5e-7},{"s":"SPHQ512","t":0.57,"v":3e-7},{"s":"SPHQ512","t":0.60,"v":2e-7},{"s":"SPHQ512","t":0.63,"v":3.5e-7},{"s":"SPHQ512","t":0.66,"v":3e-7},{"s":"SPHQ512","t":0.69,"v":2.5e-7},{"s":"SPHQ512","t":0.72,"v":4e-7},{"s":"SPHQ512","t":0.75,"v":3e-7},{"s":"SPHQ512","t":0.78,"v":2.5e-7},{"s":"SPHQ512","t":0.81,"v":3.5e-7},{"s":"SPHQ512","t":0.84,"v":3e-7},{"s":"SPHQ512","t":0.87,"v":5e-7},{"s":"SPHQ512","t":0.90,"v":7e-7},{"s":"SPHQ512","t":0.93,"v":1.5e-6},{"s":"SPHQ512","t":0.96,"v":2.5e-6},{"s":"SPHQ512","t":0.99,"v":3e-6},{"s":"SPHQ512","t":1.02,"v":7e-6},{"s":"SPHQ512","t":1.05,"v":1.5e-5},{"s":"SPHQ512","t":1.08,"v":4e-5},{"s":"SPHQ512","t":1.11,"v":1e-4},{"s":"SPHQ512","t":1.14,"v":2.5e-4},{"s":"SPHQ512","t":1.17,"v":5e-4},{"s":"SPHQ512","t":1.20,"v":7e-4},{"s":"SPHQ512","t":1.23,"v":6e-4},{"s":"SPHQ512","t":1.26,"v":7e-4},{"s":"SPHQ512","t":1.29,"v":6.5e-4},{"s":"SPHQ512","t":1.32,"v":9e-4},{"s":"SPHQ512","t":1.35,"v":1.2e-3},{"s":"SPHQ512","t":1.38,"v":1.4e-3},{"s":"SPHQ512","t":1.41,"v":2e-3},{"s":"SPHQ512","t":1.44,"v":1.8e-3},{"s":"SPHQ512","t":1.47,"v":2.5e-3},{"s":"SPHQ512","t":1.50,"v":3e-3},{"s":"SPHQ512","t":1.53,"v":2.6e-3},{"s":"SPHQ512","t":1.56,"v":4e-3},{"s":"SPHQ512","t":1.60,"v":5e-3},{"s":"SPHQ512","t":1.65,"v":6e-3},{"s":"SPHQ512","t":1.70,"v":6.5e-3},{"s":"SPHQ512","t":1.75,"v":6e-3},{"s":"SPHQ512","t":1.80,"v":7e-3},{"s":"SPHQ512","t":1.85,"v":6.5e-3},{"s":"SPHQ512","t":1.90,"v":7.5e-3},{"s":"SPHQ512","t":1.95,"v":7e-3},{"s":"SPHQ512","t":2.00,"v":8e-3}
    ]
  },
  "vconcat": [
    {
      "width": 429, "height": 151,
      "data": {"name": "top"},
      "layer": [
        {
          "mark": {"type": "line", "strokeWidth": 1, "clip": true},
          "encoding": {
            "x": {"field": "t", "type": "quantitative", "scale": {"domain": [0, 5], "nice": false},
              "axis": {"values": [0, 1, 2, 3, 4, 5], "title": "Time", "tickSize": -5, "labelPadding": 6, "titlePadding": 2}},
            "y": {"field": "v", "type": "quantitative", "scale": {"type": "log", "domain": [1e-6, 0.1]},
              "axis": {"values": [1e-6,2e-6,3e-6,4e-6,5e-6,6e-6,7e-6,8e-6,9e-6,1e-5,2e-5,3e-5,4e-5,5e-5,6e-5,7e-5,8e-5,9e-5,1e-4,2e-4,3e-4,4e-4,5e-4,6e-4,7e-4,8e-4,9e-4,1e-3,2e-3,3e-3,4e-3,5e-3,6e-3,7e-3,8e-3,9e-3,1e-2,2e-2,3e-2,4e-2,5e-2,6e-2,7e-2,8e-2,9e-2,1e-1],
                "labelExpr": "abs(log(datum.value)/LN10 - round(log(datum.value)/LN10)) < 0.01 ? '10⁻' + ['⁰','¹','²','³','⁴','⁵','⁶','⁷','⁸','⁹'][-round(log(datum.value)/LN10)] : ''",
                "tickSize": {"condition": {"test": "abs(log(datum.value)/LN10 - round(log(datum.value)/LN10)) < 0.01", "value": -5}, "value": -2.5},
                "labelPadding": 8, "title": "Max 1/2ρVᵧ²", "titlePadding": 6}},
            "color": {"field": "s", "type": "nominal", "scale": {"domain": ["SPHC128", "SPHC256", "SPHC512"], "range": ["#0000ff", "#008000", "#ff0000"]},
              "legend": {"encode": {"symbols": {"update": {"strokeDash": {"signal": "datum.label === 'SPHC128' ? [1.5, 1.5] : datum.label === 'SPHC256' ? [4, 2, 1.5, 2] : [6, 4]"}}}}}},
            "strokeDash": {"field": "s", "type": "nominal", "legend": null, "scale": {"domain": ["SPHC128", "SPHC256", "SPHC512"], "range": [[1.5, 1.5], [4, 2, 1.5, 2], [6, 4]]}}
          }
        },
        {
          "mark": {"type": "line", "opacity": 0},
          "encoding": {
            "x": {"field": "t", "type": "quantitative", "axis": {"orient": "top", "values": [0, 1, 2, 3, 4, 5], "labels": false, "title": null, "tickSize": -5}},
            "y": {"field": "v", "type": "quantitative", "axis": {"orient": "right", "values": [1e-6,2e-6,3e-6,4e-6,5e-6,6e-6,7e-6,8e-6,9e-6,1e-5,2e-5,3e-5,4e-5,5e-5,6e-5,7e-5,8e-5,9e-5,1e-4,2e-4,3e-4,4e-4,5e-4,6e-4,7e-4,8e-4,9e-4,1e-3,2e-3,3e-3,4e-3,5e-3,6e-3,7e-3,8e-3,9e-3,1e-2,2e-2,3e-2,4e-2,5e-2,6e-2,7e-2,8e-2,9e-2,1e-1], "labels": false, "title": null,
              "tickSize": {"condition": {"test": "abs(log(datum.value)/LN10 - round(log(datum.value)/LN10)) < 0.01", "value": -5}, "value": -2.5}}},
            "detail": {"field": "s"}
          }
        }
      ],
      "resolve": {"axis": {"x": "independent", "y": "independent"}}
    },
    {
      "width": 429, "height": 150,
      "data": {"name": "bot"},
      "layer": [
        {
          "mark": {"type": "line", "strokeWidth": 1, "clip": true},
          "encoding": {
            "x": {"field": "t", "type": "quantitative", "scale": {"domain": [0, 12], "nice": false},
              "axis": {"values": [0, 2, 4, 6, 8, 10, 12], "title": "Time", "tickSize": -5, "labelPadding": 6, "titlePadding": 2}},
            "y": {"field": "v", "type": "quantitative", "scale": {"type": "log", "domain": [1e-8, 0.1]},
              "axis": {"values": [1e-8,2e-8,3e-8,4e-8,5e-8,6e-8,7e-8,8e-8,9e-8,1e-7,2e-7,3e-7,4e-7,5e-7,6e-7,7e-7,8e-7,9e-7,1e-6,2e-6,3e-6,4e-6,5e-6,6e-6,7e-6,8e-6,9e-6,1e-5,2e-5,3e-5,4e-5,5e-5,6e-5,7e-5,8e-5,9e-5,1e-4,2e-4,3e-4,4e-4,5e-4,6e-4,7e-4,8e-4,9e-4,1e-3,2e-3,3e-3,4e-3,5e-3,6e-3,7e-3,8e-3,9e-3,1e-2,2e-2,3e-2,4e-2,5e-2,6e-2,7e-2,8e-2,9e-2,1e-1],
                "labelExpr": "abs(log(datum.value)/LN10 - round(log(datum.value)/LN10)) < 0.01 ? '10⁻' + ['⁰','¹','²','³','⁴','⁵','⁶','⁷','⁸','⁹'][-round(log(datum.value)/LN10)] : ''",
                "tickSize": {"condition": {"test": "abs(log(datum.value)/LN10 - round(log(datum.value)/LN10)) < 0.01", "value": -5}, "value": -2.5},
                "labelPadding": 8, "title": "Max 1/2ρVᵧ²", "titlePadding": 6}},
            "color": {"field": "s", "type": "nominal", "scale": {"domain": ["SPHQ128", "SPHQ256", "SPHQ512"], "range": ["#0000ff", "#008000", "#ff0000"]},
              "legend": {"encode": {"symbols": {"update": {"strokeDash": {"signal": "datum.label === 'SPHQ128' ? [1.2, 1.2] : datum.label === 'SPHQ256' ? [1.6, 4.4] : [6, 4]"}}}}}},
            "strokeDash": {"field": "s", "type": "nominal", "legend": null, "scale": {"domain": ["SPHQ128", "SPHQ256", "SPHQ512"], "range": [[1.2, 1.2], [1.6, 4.4], [6, 4]]}}
          }
        },
        {
          "mark": {"type": "line", "opacity": 0},
          "encoding": {
            "x": {"field": "t", "type": "quantitative", "axis": {"orient": "top", "values": [0, 2, 4, 6, 8, 10, 12], "labels": false, "title": null, "tickSize": -5}},
            "y": {"field": "v", "type": "quantitative", "axis": {"orient": "right", "values": [1e-8,2e-8,3e-8,4e-8,5e-8,6e-8,7e-8,8e-8,9e-8,1e-7,2e-7,3e-7,4e-7,5e-7,6e-7,7e-7,8e-7,9e-7,1e-6,2e-6,3e-6,4e-6,5e-6,6e-6,7e-6,8e-6,9e-6,1e-5,2e-5,3e-5,4e-5,5e-5,6e-5,7e-5,8e-5,9e-5,1e-4,2e-4,3e-4,4e-4,5e-4,6e-4,7e-4,8e-4,9e-4,1e-3,2e-3,3e-3,4e-3,5e-3,6e-3,7e-3,8e-3,9e-3,1e-2,2e-2,3e-2,4e-2,5e-2,6e-2,7e-2,8e-2,9e-2,1e-1], "labels": false, "title": null,
              "tickSize": {"condition": {"test": "abs(log(datum.value)/LN10 - round(log(datum.value)/LN10)) < 0.01", "value": -5}, "value": -2.5}}},
            "detail": {"field": "s"}
          }
        }
      ],
      "resolve": {"axis": {"x": "independent", "y": "independent"}}
    }
  ],
  "spacing": 30,
  "bounds": "flush",
  "resolve": {"scale": {"color": "independent", "strokeDash": "independent"}}
}
